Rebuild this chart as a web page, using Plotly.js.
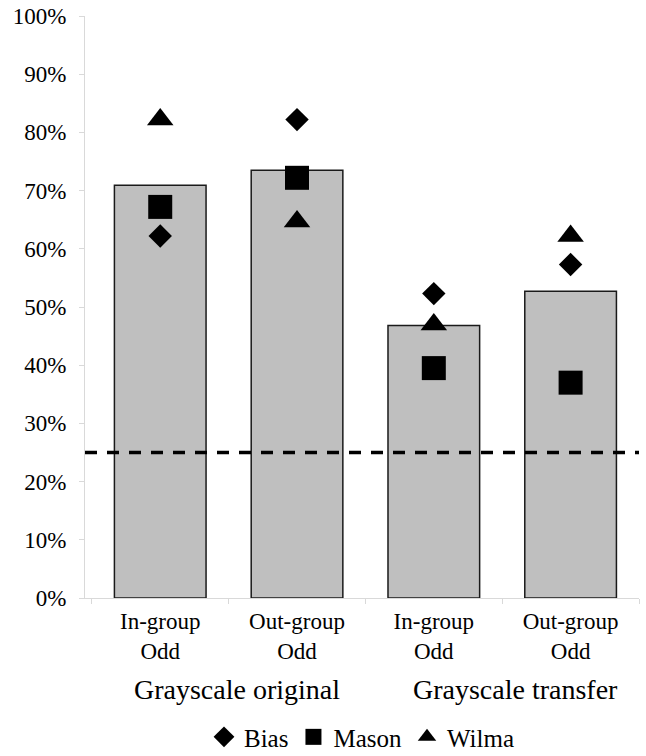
<!DOCTYPE html>
<html>
<head>
<meta charset="utf-8">
<script src="https://cdn.plot.ly/plotly-3.0.1.min.js"></script>
<style>html,body{margin:0;padding:0;background:#fff;}#chart{width:646px;height:756px;}</style>
</head>
<body>
<div id="chart"></div>
<script>
// ---- data ----
const catIds = ['orig-in', 'orig-out', 'trans-in', 'trans-out'];
const tickLabels = ['In-group<br>Odd', 'Out-group<br>Odd', 'In-group<br>Odd', 'Out-group<br>Odd'];
const groupLabels = ['Grayscale original', 'Grayscale transfer'];
const groupCenters = [0.5, 2.5];
const average = [0.709, 0.735, 0.468, 0.527];
const bias = [0.622, 0.822, 0.523, 0.573];
const mason = [0.672, 0.722, 0.395, 0.370];
const wilma = [0.822, 0.647, 0.470, 0.622];
const chance = [0.25];
const yTickVals = [0, 0.1, 0.2, 0.3, 0.4, 0.5, 0.6, 0.7, 0.8, 0.9, 1.0];

const FONT = 'Liberation Serif, Times New Roman, serif';

const traces = [
  {
    type: 'bar', x: catIds, y: average, width: 0.67,
    marker: {color: '#bfbfbf', line: {color: '#1a1a1a', width: 1.5}},
    showlegend: false, hoverinfo: 'y'
  },
  {
    type: 'scatter', mode: 'markers', name: 'Bias', x: catIds, y: bias,
    marker: {symbol: 'diamond', size: 18, color: '#000'}
  },
  {
    type: 'scatter', mode: 'markers', name: 'Mason', x: catIds, y: mason,
    marker: {symbol: 'square', size: 24, color: '#000'}
  },
  {
    type: 'scatter', mode: 'markers', name: 'Wilma', x: catIds, y: wilma,
    marker: {symbol: 'triangle-up', size: 23, color: '#000'}
  }
];

const layout = {
  width: 646, height: 756,
  margin: {l: 85, r: 7, t: 16, b: 158},
  paper_bgcolor: '#fff', plot_bgcolor: '#fff',
  font: {family: FONT, size: 24, color: '#000'},
  xaxis: {
    type: 'category', range: [-0.55, 3.5],
    tickmode: 'array', tickvals: catIds, ticktext: tickLabels,
    tickson: 'boundaries', ticks: 'outside', ticklen: 5, tickcolor: '#d9d9d9',
    showline: true, linecolor: '#d9d9d9', linewidth: 1,
    showgrid: false, zeroline: false, ticklabelstandoff: 2,
    tickfont: {family: FONT, size: 23, color: '#000'}
  },
  yaxis: {
    range: [0, 1], tickmode: 'array', tickvals: yTickVals, tickformat: '.0%',
    ticks: 'outside', ticklen: 5, tickcolor: '#d9d9d9',
    showline: true, linecolor: '#d9d9d9', linewidth: 1,
    showgrid: false, zeroline: false, ticklabelstandoff: 8,
    tickfont: {family: FONT, size: 23, color: '#000'}
  },
  shapes: [{
    type: 'line', xref: 'paper', x0: 0, x1: 1, yref: 'y', y0: chance[0], y1: chance[0],
    line: {color: '#000', width: 3.5, dash: '12px,10px'}
  }],
  annotations: groupLabels.map((t, i) => ({
    text: t, xref: 'x', x: groupCenters[i], yref: 'paper', y: -0.158,
    xanchor: 'center', yanchor: 'middle', showarrow: false,
    xshift: i === 0 ? 8 : 13,
    font: {family: FONT, size: 28, color: '#000'}
  })),
  legend: {
    orientation: 'h', x: 0.5, xanchor: 'center',
    yref: 'container', y: 0.025, yanchor: 'middle',
    font: {family: FONT, size: 25, color: '#000'}, itemclick: false
  }
};

Plotly.newPlot('chart', traces, layout, {displayModeBar: false, staticPlot: true});
</script>
</body>
</html>
